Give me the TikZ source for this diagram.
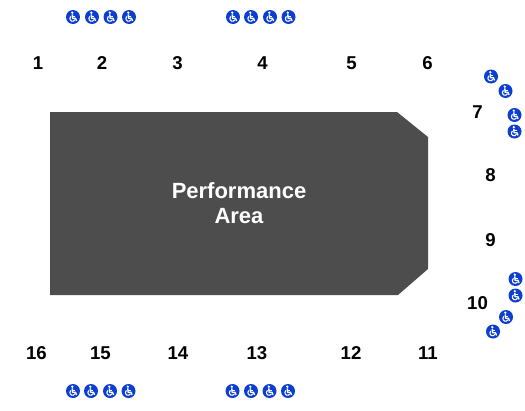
\documentclass[tikz,border=0pt]{standalone}
\usepackage{fontspec}
\setmainfont{Liberation Sans}
\definecolor{stagegray}{RGB}{77,77,77}
\definecolor{accessblue}{RGB}{12,62,208}
\tikzset{
  seclabel/.style={font=\fontsize{18.6}{20}\selectfont\bfseries,text=black,inner sep=0pt},
  stagelabel/.style={font=\fontsize{22}{25}\selectfont\bfseries,text=white,align=center,inner sep=0pt},
  access/.pic={
    \fill[accessblue] (0,0) circle (7);
    \fill[white] (-0.7,-4.3) circle (1.3);
    \draw[white,line width=1.4pt,line join=round] (-0.7,-2.6) -- (-0.4,1.2) -- (2.4,1.2) -- (3.6,3.9);
    \draw[white,line width=1.1pt] (-0.5,-0.8) -- (2.2,-0.8);
    \draw[white,line width=1.1pt] (-2.0,-0.6) .. controls (-4.6,1.6) and (-2.2,4.8) .. (0.2,4.2) .. controls (1.2,4.0) and (1.8,3.4) .. (2.0,2.8);
  }
}
\begin{document}
\begin{tikzpicture}[x=1pt,y=-1pt]
\useasboundingbox (0,0) rectangle (525,410);
\fill[stagegray] (50,112) -- (397,112) -- (428,137) -- (428,269) -- (398,295) -- (50,295) -- cycle;
\node[stagelabel] (stage) at (239,203.5) {Performance\\[0pt]Area};
\node[seclabel] (s1) at (38,63) {1};
\node[seclabel] (s2) at (102,63) {2};
\node[seclabel] (s3) at (177.5,63) {3};
\node[seclabel] (s4) at (262.5,63) {4};
\node[seclabel] (s5) at (351.5,63) {5};
\node[seclabel] (s6) at (427.5,63) {6};
\node[seclabel] (s7) at (477.5,112) {7};
\node[seclabel] (s8) at (490.5,175) {8};
\node[seclabel] (s9) at (490.5,240) {9};
\node[seclabel] (s10) at (477.5,303) {10};
\node[seclabel] (s11) at (428,353) {11};
\node[seclabel] (s12) at (351,353) {12};
\node[seclabel] (s13) at (257,353) {13};
\node[seclabel] (s14) at (178,353) {14};
\node[seclabel] (s15) at (100.5,353) {15};
\node[seclabel] (s16) at (36.5,353) {16};
% top row
\pic at (73,17) {access};
\pic at (92,17) {access};
\pic at (110.5,17) {access};
\pic at (129,17) {access};
\pic at (233,17) {access};
\pic at (251,17) {access};
\pic at (270,17) {access};
\pic at (288.5,17) {access};
% right side
\pic at (491,76.5) {access};
\pic at (505.5,91) {access};
\pic at (514.5,115) {access};
\pic at (514.5,131.5) {access};
\pic at (515.5,279) {access};
\pic at (515.5,295.5) {access};
\pic at (506,317) {access};
\pic at (493,331.5) {access};
% bottom row
\pic at (73,391) {access};
\pic at (91,391) {access};
\pic at (110,391) {access};
\pic at (128.5,391) {access};
\pic at (232.5,391) {access};
\pic at (251,391) {access};
\pic at (269.5,391) {access};
\pic at (288,391) {access};
\end{tikzpicture}
\end{document}
